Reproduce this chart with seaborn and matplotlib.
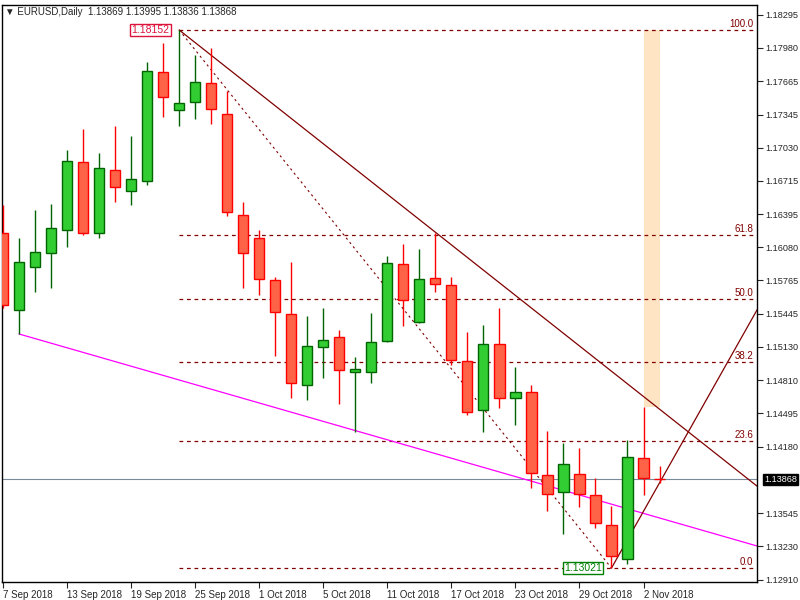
import numpy as np
import pandas as pd
import matplotlib
matplotlib.use("Agg")
import matplotlib.pyplot as plt
import seaborn as sns

# daily EURUSD candles, 7 Sep - 5 Nov 2018
dates = ["7 Sep", "10 Sep", "11 Sep", "12 Sep", "13 Sep", "14 Sep", "17 Sep", "18 Sep", "19 Sep",
         "20 Sep", "21 Sep", "24 Sep", "25 Sep", "26 Sep", "27 Sep", "28 Sep", "1 Oct", "2 Oct",
         "3 Oct", "4 Oct", "5 Oct", "8 Oct", "9 Oct", "10 Oct", "11 Oct", "12 Oct", "15 Oct",
         "16 Oct", "17 Oct", "18 Oct", "19 Oct", "22 Oct", "23 Oct", "24 Oct", "25 Oct", "26 Oct",
         "29 Oct", "30 Oct", "31 Oct", "1 Nov", "2 Nov", "5 Nov"]
opens = [1.16212, 1.15482, 1.15896, 1.16028, 1.16241, 1.16890, 1.16219, 1.16813, 1.16615,
         1.16710, 1.17752, 1.17389, 1.17466, 1.17649, 1.17352, 1.16391, 1.16164, 1.15768,
         1.15445, 1.14763, 1.15126, 1.15225, 1.14895, 1.14887, 1.15184, 1.15922, 1.15368,
         1.15790, 1.15720, 1.14994, 1.14524, 1.15155, 1.14642, 1.14704, 1.13912, 1.13747,
         1.13919, 1.13717, 1.13431, 1.13108, 1.14073, 1.13869]
highs = [1.16487, 1.16164, 1.16439, 1.16490, 1.17011, 1.17209, 1.16978, 1.17239, 1.17143,
         1.17844, 1.18024, 1.18152, 1.17917, 1.17980, 1.17572, 1.16512, 1.16245, 1.15801,
         1.15936, 1.15427, 1.15496, 1.15295, 1.15030, 1.15456, 1.15995, 1.16109, 1.16061,
         1.16215, 1.15801, 1.15276, 1.15339, 1.15504, 1.14935, 1.14770, 1.14326, 1.14209,
         1.14165, 1.13875, 1.13611, 1.14238, 1.14561, 1.13995]
lows = [1.15504, 1.15254, 1.15650, 1.15691, 1.16083, 1.16201, 1.16171, 1.16516, 1.16487,
        1.16677, 1.17319, 1.17235, 1.17301, 1.17253, 1.16380, 1.15691, 1.15628, 1.15045,
        1.14638, 1.14623, 1.14836, 1.14587, 1.14322, 1.14788, 1.15174, 1.15331, 1.15357,
        1.15650, 1.14961, 1.14484, 1.14319, 1.14550, 1.14389, 1.13787, 1.13567, 1.13350,
        1.13603, 1.13402, 1.13021, 1.13064, 1.13717, 1.13836]
closes = [1.15529, 1.15944, 1.16039, 1.16259, 1.16901, 1.16212, 1.16835, 1.16652, 1.16729,
          1.17763, 1.17514, 1.17455, 1.17657, 1.17400, 1.16417, 1.16028, 1.15779, 1.15463,
          1.14781, 1.15137, 1.15196, 1.14906, 1.14917, 1.15174, 1.15933, 1.15581, 1.15779,
          1.15731, 1.15001, 1.14506, 1.15155, 1.14642, 1.14697, 1.13923, 1.13728, 1.14014,
          1.13728, 1.13450, 1.13138, 1.14084, 1.13882, 1.13868]

date_labels = ["7 Sep 2018", "13 Sep 2018", "19 Sep 2018", "25 Sep 2018", "1 Oct 2018",
               "5 Oct 2018", "11 Oct 2018", "17 Oct 2018", "23 Oct 2018", "29 Oct 2018", "2 Nov 2018"]
label_days = ["7 Sep", "13 Sep", "19 Sep", "25 Sep", "1 Oct", "5 Oct", "11 Oct", "17 Oct",
              "23 Oct", "29 Oct", "2 Nov"]
price_ticks = [1.18295, 1.17980, 1.17665, 1.17345, 1.17030, 1.16715, 1.16395, 1.16080, 1.15765,
               1.15445, 1.15130, 1.14810, 1.14495, 1.14180, 1.13545, 1.13230, 1.12910]

fib_high = 1.18152
fib_low = 1.13021
fib_levels = [0.0, 23.6, 38.2, 50.0, 61.8, 100.0]
last_price = 1.13868
# trendline end prices at right edge
down_end = 1.13801
magenta_start, magenta_end = 1.15253, 1.13231
up_end = 1.15485
box_low = 1.14561

df = pd.DataFrame({"date": dates, "open": opens, "high": highs, "low": lows, "close": closes})
df["i"] = np.arange(len(df))
df["up"] = df["close"] >= df["open"]

sns.set_style("white")
plt.rcParams['font.family'] = ['Liberation Sans', 'DejaVu Sans']
fs = 7

fig = plt.figure(figsize=(8, 6), dpi=100)
ax = fig.add_axes([0.0025, 0.03, 0.944, 0.9617])
x0, x1 = -0.06, 47.1
ax.set_xlim(x0, x1)
ax.set_ylim(1.12888, 1.18390)

i_hi = dates.index("24 Sep")
i_lo = dates.index("31 Oct")
i_box = dates.index("2 Nov")

# orange box
ax.fill_between([i_box, i_box + 1], box_low, fib_high, color="#FFE4C4", lw=0, zorder=1)

# current price line
ax.axhline(last_price, color="#7A8A9A", lw=0.8, zorder=1)

# fibo levels
span = fib_high - fib_low
for lv in fib_levels:
    y = fib_low + span * lv / 100
    ax.plot([i_hi, x1], [y, y], color="#800000", lw=0.9, ls=(0, (3, 3)), zorder=2)
    ax.text(46.85, y + 0.00012, f"{lv:.1f}", color="#800000", fontsize=fs, ha="right", va="bottom")
ax.plot([i_hi, i_lo], [fib_high, fib_low], color="#800000", lw=0.8, ls=(0, (2, 3)), zorder=2)

# trendlines
sns.lineplot(x=[i_hi, x1], y=[fib_high, down_end], color="#800000", lw=0.9, ax=ax, zorder=2)
sns.lineplot(x=[1, x1], y=[magenta_start, magenta_end], color="#FF00FF", lw=0.9, ax=ax, zorder=2)
sns.lineplot(x=[i_lo, x1], y=[fib_low, up_end], color="#800000", lw=0.9, ax=ax, zorder=2)

# candles
for _, r in df.iterrows():
    fc, ec = ("#32CD32", "#006400") if r["up"] else ("#FF6347", "#FF0000")
    ax.vlines(r["i"], r["low"], r["high"], color=ec, lw=1, zorder=3)
    lo, hi = sorted([r["open"], r["close"]])
    ax.bar(r["i"], max(hi - lo, 0.00002), bottom=lo, width=0.64, color=fc, edgecolor=ec,
           lw=1, zorder=4)

# price labels
ax.text(10.4, fib_high, "1.18152", color="#DC143C", fontsize=fs + 0.5, ha="right", va="center",
        bbox=dict(boxstyle="square,pad=0.12", fc="white", ec="#DC143C", lw=1), zorder=6)
ax.text(37.4, fib_low, "1.13021", color="#008000", fontsize=fs + 0.5, ha="right", va="center",
        bbox=dict(boxstyle="square,pad=0.12", fc="white", ec="#008000", lw=1), zorder=6)

# axes
ax.yaxis.tick_right()
ax.set_yticks(price_ticks)
ax.set_yticklabels([f"{p:.5f}" for p in price_ticks], fontsize=6.6)
ax.tick_params(axis="y", length=4, width=0.8, direction="out", right=True, pad=2)
ax.annotate(f"{last_price:.5f}", xy=(1.0, last_price), xycoords=("axes fraction", "data"),
            xytext=(1.009, last_price), textcoords=("axes fraction", "data"),
            color="white", fontsize=6.6, va="center", ha="left",
            bbox=dict(boxstyle="square,pad=0.12", fc="black", ec="black"), annotation_clip=False)

ax.set_xticks([dates.index(d) for d in label_days])
ax.set_xticklabels(date_labels, fontsize=fs, ha="left")
ax.tick_params(axis="x", length=4, width=0.8, direction="out", bottom=True, pad=2)
for sp in ax.spines.values():
    sp.set_color("black")
    sp.set_linewidth(1)
ax.set_xlabel("")
ax.set_ylabel("")

fig.text(0.006, 0.989, "\u25bc EURUSD,Daily  1.13869 1.13995 1.13836 1.13868",
         fontsize=fs, va="top", ha="left")

fig.savefig("out.png", dpi=100)
